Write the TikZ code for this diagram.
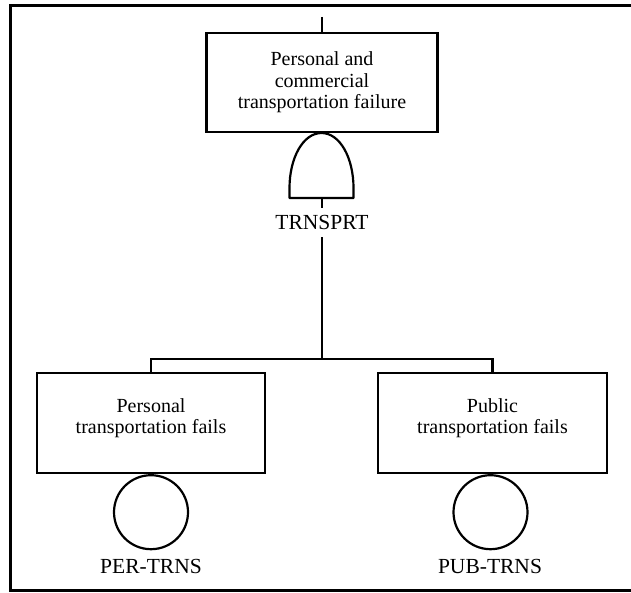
\documentclass[tikz,border=0pt]{standalone}
\usepackage{fontspec}
\setmainfont{Liberation Serif}
\begin{document}
\begin{tikzpicture}[x=1pt,y=-1pt,
  evbox/.style={draw,line width=2.2pt,rectangle,inner sep=0pt},
  evtext/.style={align=center,inner sep=0pt,font=\fontsize{20}{21.5}\selectfont},
  basic/.style={draw,line width=2.2pt,circle,inner sep=0pt,minimum size=74pt},
  idlabel/.style={inner sep=0pt,text height=15pt,text depth=0pt,font=\fontsize{21.5}{24}\selectfont},
  conn/.style={line width=2.2pt},
  frame/.style={line width=3pt}]
\useasboundingbox (0,0) rectangle (631,593);
% outer frame (right side is cut off)
\draw[frame] (631,5.5) -- (10.5,5.5) -- (10.5,590.5) -- (631,590.5);

% top event
\node[evbox,minimum width=231pt,minimum height=99pt] (top) at (322,82.5) {};
\node[evtext] (toptxt) at (top.center) {Personal and\\commercial\\transportation failure};
\coordinate (topin) at (322,17);
\draw[conn] (topin) -- (top.north);

% AND gate
\coordinate (gtop) at (321.5,133);
\coordinate (gbot) at (322,198);
\draw[conn,line join=round] (289.5,198) -- (289.5,188) .. controls (289.5,158) and (303,133) .. (gtop)
  .. controls (340,133) and (353.5,158) .. (353.5,188) -- (353.5,198) -- cycle;
\node[idlabel,minimum height=29pt] (gl) at (322,222.5) {TRNSPRT};
\draw[conn] (gbot) -- (gl.north);
\coordinate (jn) at (322,359);
\draw[conn] (gl.south) -- (jn);

% children
\node[evbox,minimum width=228pt,minimum height=100pt] (left) at (151,423) {};
\node[evtext] (lefttxt) at ([yshift=5pt]left.center) {Personal\\transportation fails};
\node[evbox,minimum width=229pt,minimum height=100pt] (right) at (492.5,423) {};
\node[evtext] (righttxt) at ([yshift=5pt]right.center) {Public\\transportation fails};
\draw[conn] (left.north) |- (jn) -| (right.north);

% basic events
\node[basic,anchor=north] (lc) at (left.south) {};
\node[basic,anchor=north] (rc) at ([xshift=-2pt]right.south) {};
\node[idlabel] (ll) at (151,565.5) {PER-TRNS};
\node[idlabel] (rl) at (490,565.5) {PUB-TRNS};
\end{tikzpicture}
\end{document}
